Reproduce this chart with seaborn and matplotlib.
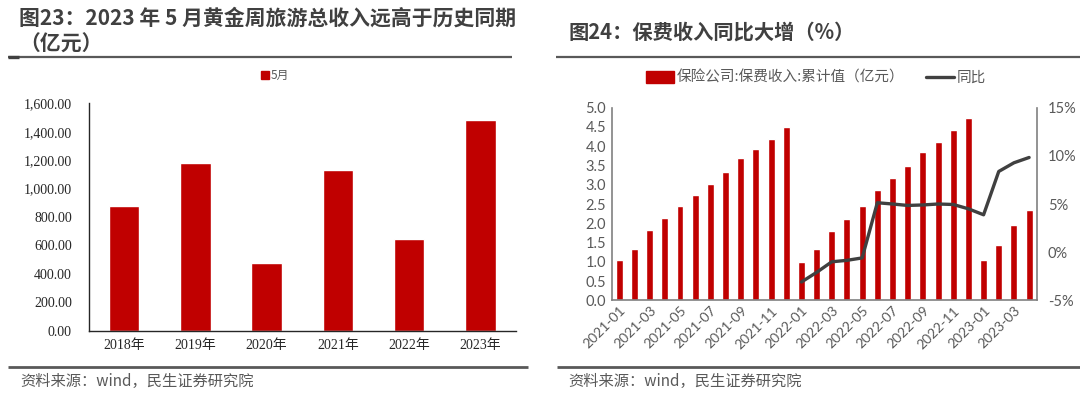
import matplotlib
matplotlib.use("Agg")
import matplotlib.pyplot as plt
import seaborn as sns
import pandas as pd
from matplotlib.lines import Line2D
from matplotlib.patches import Patch
from matplotlib.ticker import FuncFormatter, MultipleLocator

# ---------------- data ----------------
years = ["2018年", "2019年", "2020年", "2021年", "2022年", "2023年"]
may_income = [877.6, 1176.7, 475.6, 1132.3, 646.8, 1480.6]

months = ["2021-01", "2021-02", "2021-03", "2021-04", "2021-05", "2021-06",
          "2021-07", "2021-08", "2021-09", "2021-10", "2021-11", "2021-12",
          "2022-01", "2022-02", "2022-03", "2022-04", "2022-05", "2022-06",
          "2022-07", "2022-08", "2022-09", "2022-10", "2022-11", "2022-12",
          "2023-01", "2023-02", "2023-03", "2023-04"]
premium = [1.04, 1.34, 1.82, 2.14, 2.46, 2.74, 3.03, 3.32, 3.69, 3.93, 4.20, 4.51,
           1.00, 1.32, 1.80, 2.12, 2.44, 2.86, 3.17, 3.49, 3.86, 4.12, 4.41, 4.72,
           1.04, 1.43, 1.96, 2.34]
yoy_months = ["2022-01", "2022-02", "2022-03", "2022-04", "2022-05", "2022-06",
              "2022-07", "2022-08", "2022-09", "2022-10", "2022-11", "2022-12",
              "2023-01", "2023-02", "2023-03", "2023-04"]
yoy = [-3.1, -2.1, -1.0, -0.85, -0.6, 5.13, 5.0, 4.85, 4.9, 5.0, 4.95, 4.5,
       3.88, 8.38, 9.28, 9.83]

left_title1 = "图23：2023 年 5 月黄金周旅游总收入远高于历史同期"
left_title2 = "（亿元）"
right_title = "图24：保费收入同比大增（%）"
source = "资料来源：wind，民生证券研究院"
left_legend = "5月"
bar_label = "保险公司:保费收入:累计值（亿元）"
line_label = "同比"

# ---------------- style ----------------
sns.set_theme(style="white")
plt.rcParams["font.family"] = ["Noto Sans CJK SC", "DejaVu Sans"]
RED = "#C00000"
DARK = "#404040"
GRAY = "#595959"
SERIF = ["Liberation Serif", "Noto Sans CJK SC"]
SANS = ["Lato", "Noto Sans CJK SC", "DejaVu Sans"]

W, H = 1080, 394
fig = plt.figure(figsize=(W / 100, H / 100), dpi=100)


def rect(x0, y0, x1, y1):
    return [x0 / W, 1 - y1 / H, (x1 - x0) / W, (y1 - y0) / H]


def hline(x0, x1, y, lw, color):
    fig.add_artist(Line2D([x0 / W, x1 / W], [1 - y / H, 1 - y / H],
                          transform=fig.transFigure, lw=lw, color=color,
                          solid_capstyle="butt"))


# titles
fig.text(19 / W, 1 - 18 / H, left_title1, fontsize=15, fontweight="bold",
         color=DARK, va="center", ha="left")
fig.text(19 / W, 1 - 44 / H, left_title2, fontsize=15, fontweight="bold",
         color=DARK, va="center", ha="left")
fig.text(568 / W, 1 - 32 / H, right_title, fontsize=14.6, fontweight="bold",
         color=DARK, va="center", ha="left")

# separator lines
hline(8, 512, 56.7, 1.6, GRAY)
hline(8, 19, 57.0, 2.4, DARK)
hline(556, 1080, 56.7, 1.6, GRAY)
hline(8, 528, 366.7, 2.0, GRAY)
hline(557, 1080, 366.7, 2.0, GRAY)

# source
fig.text(20 / W, 1 - 381 / H, source, fontsize=11, color=GRAY,
         va="center", ha="left")
fig.text(568 / W, 1 - 381 / H, source, fontsize=11, color=GRAY,
         va="center", ha="left")

# ---------------- left chart ----------------
axL = fig.add_axes(rect(88.5, 103.3, 516, 330.7))
dfL = pd.DataFrame({"year": years, "value": may_income})
sns.barplot(data=dfL, x="year", y="value", color=RED, width=0.43,
            saturation=1, ax=axL)
axL.set_ylim(0, 1600)
axL.set_xlim(-0.5, len(years) - 0.5)
axL.yaxis.set_major_locator(MultipleLocator(200))
axL.yaxis.set_major_formatter(FuncFormatter(lambda v, p: f"{v:,.2f}"))
axL.set_xlabel("")
axL.set_ylabel("")
for s in ["top", "right"]:
    axL.spines[s].set_visible(False)
for s in ["left", "bottom"]:
    axL.spines[s].set_color("#262626")
    axL.spines[s].set_linewidth(1.0)
axL.tick_params(axis="y", direction="in", length=3, width=0.8,
                color="#262626", pad=12, labelsize=10, labelcolor="#262626")
axL.set_xticks([i - 0.5 for i in range(len(years) + 1)], minor=False)
axL.set_xticklabels([])
axL.set_xticks(range(len(years)), minor=True)
axL.set_xticklabels(years, minor=True)
axL.tick_params(axis="x", which="major", direction="out", length=4,
                width=0.8, color="#262626")
axL.tick_params(axis="x", which="minor", length=0, pad=6, labelsize=10,
                labelcolor="#262626")
for t in axL.get_yticklabels() + axL.get_xticklabels(minor=True):
    t.set_family(SERIF)
legL = axL.legend(handles=[Patch(color=RED, label=left_legend)],
                  loc="center", bbox_to_anchor=((275 - 88.5) / (516 - 88.5),
                                                 1 + (103.3 - 75.7) / 227.4),
                  frameon=False, fontsize=8.5, handlelength=0.7,
                  handleheight=0.7, handletextpad=0.2, borderpad=0)
for t in legL.get_texts():
    t.set_color(GRAY)

# ---------------- right chart ----------------
axR = fig.add_axes(rect(611.7, 107.7, 1036.7, 300.3))
dfR = pd.DataFrame({"month": months, "value": premium})
sns.barplot(data=dfR, x="month", y="value", color=RED, width=0.46,
            saturation=1, ax=axR)
axR.set_ylim(0, 5.0)
axR.set_xlim(-0.5, len(months) - 0.5)
axR.yaxis.set_major_locator(MultipleLocator(0.5))
axR.yaxis.set_major_formatter(FuncFormatter(lambda v, p: f"{v:.1f}"))
axR.set_xlabel("")
axR.set_ylabel("")
axR.set_xticks([i - 0.5 for i in range(0, len(months) + 1, 2)])
axR.set_xticklabels([])
axR.set_xticks(range(0, len(months), 2), minor=True)
axR.set_xticklabels(months[::2], minor=True, rotation=45, ha="right",
                    rotation_mode="anchor")
axR.tick_params(axis="x", which="major", direction="out", length=4,
                width=1.0, color="#808080")
axR.tick_params(axis="x", which="minor", length=0, pad=3, labelsize=10,
                labelcolor=GRAY)
axR.tick_params(axis="y", length=0, pad=4, labelsize=10.5, labelcolor=GRAY)
for s in ["top", "right"]:
    axR.spines[s].set_visible(False)
for s in ["left", "bottom"]:
    axR.spines[s].set_color("#808080")
    axR.spines[s].set_linewidth(1.2)

ax2 = axR.twinx()
xpos = [months.index(m) for m in yoy_months]
dfY = pd.DataFrame({"x": xpos, "yoy": yoy})
sns.lineplot(data=dfY, x="x", y="yoy", color=DARK, lw=2.4, ax=ax2,
             legend=False)
ax2.set_ylim(-5, 15)
ax2.yaxis.set_major_locator(MultipleLocator(5))
ax2.yaxis.set_major_formatter(FuncFormatter(lambda v, p: f"{v:.0f}%"))
ax2.set_xlabel("")
ax2.set_ylabel("")
ax2.set_xlim(-0.5, len(months) - 0.5)
for s in ["top", "left", "bottom"]:
    ax2.spines[s].set_visible(False)
ax2.spines["right"].set_color("#808080")
ax2.spines["right"].set_linewidth(1.2)
ax2.tick_params(axis="y", length=0, pad=8, labelsize=10.5, labelcolor=GRAY)

for t in (axR.get_yticklabels() + axR.get_xticklabels(minor=True)
          + ax2.get_yticklabels()):
    t.set_family(SANS)

handles = [Patch(color=RED, label=bar_label),
           Line2D([], [], color=DARK, lw=2.4, label=line_label)]
legR = fig.legend(handles=handles, loc="center",
                  bbox_to_anchor=(816 / W, 1 - 78 / H), ncol=2,
                  frameon=False, fontsize=10.5, handlelength=1.9,
                  handleheight=0.8, handletextpad=0.2, columnspacing=1.5,
                  borderpad=0)
for t in legR.get_texts():
    t.set_color(GRAY)

fig.savefig("out.png", dpi=100)
